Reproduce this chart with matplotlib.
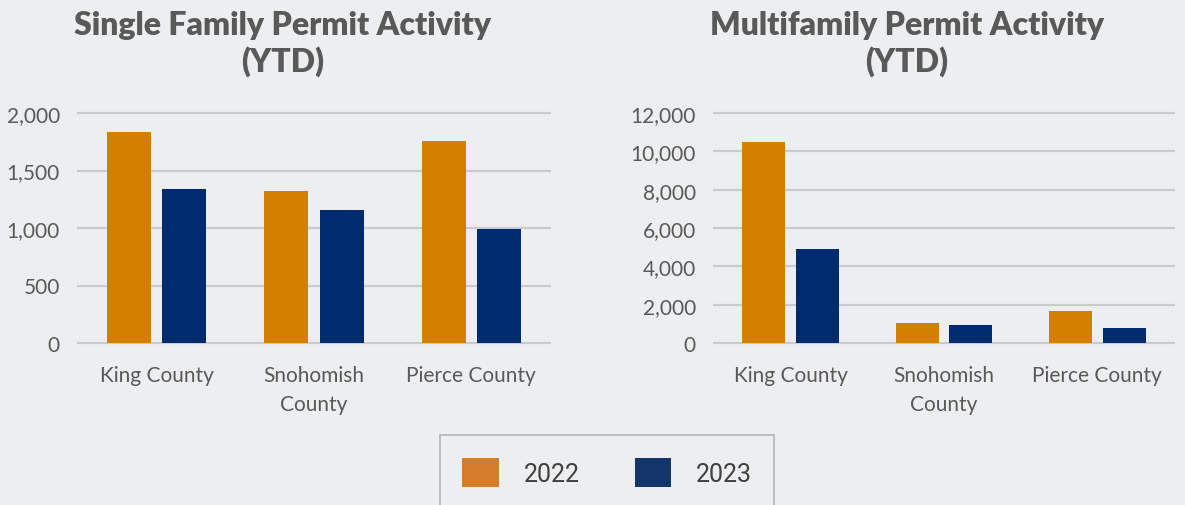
import numpy as np
import matplotlib.pyplot as plt
from matplotlib.patches import Patch

# datos
condados = ['King County', 'Snohomish\nCounty', 'Pierce County']
anios = ['2022', '2023']
unifamiliar_2022 = [1835, 1323, 1760]
unifamiliar_2023 = [1341, 1160, 995]
multifamiliar_2022 = [10510, 1040, 1680]
multifamiliar_2023 = [4890, 935, 795]

fondo = '#EDEEF0'
naranja = '#D47F00'
azul = '#002B6F'
gris_texto = '#595959'
gris_grid = '#CACBCD'

plt.rcParams['font.family'] = ['Lato', 'DejaVu Sans']

fig = plt.figure(figsize=(11.85, 5.06), dpi=100, facecolor=fondo)

ax1 = fig.add_axes([78/1185, 1 - 344/506, 472/1185, 230/506])
ax2 = fig.add_axes([714/1185, 1 - 344/506, 460/1185, 230/506])

x = np.arange(len(condados))
ancho = 0.28
desp = 0.175

def dibujar(ax, v22, v23, ymax, paso):
  ax.set_facecolor(fondo)
  ax.bar(x - desp, v22, width=ancho, color=naranja, zorder=3)
  ax.bar(x + desp, v23, width=ancho, color=azul, zorder=3)
  ax.set_xlim(-0.5, 2.5)
  ax.set_ylim(0, ymax)
  ticks = np.arange(0, ymax + 1, paso)
  ax.set_yticks(ticks)
  ax.set_yticklabels([f'{int(t):,}' for t in ticks])
  ax.set_xticks(x)
  ax.set_xticklabels(condados, linespacing=1.55)
  ax.tick_params(length=0, labelsize=15, colors=gris_texto)
  ax.tick_params(axis='x', pad=16)
  ax.tick_params(axis='y', pad=13)
  ax.grid(axis='y', color=gris_grid, linewidth=1.6, zorder=0)
  ax.set_axisbelow(True)
  for s in ax.spines.values():
    s.set_visible(False)
  for l in ax.get_ygridlines():
    l.set_clip_on(False)

dibujar(ax1, unifamiliar_2022, unifamiliar_2023, 2000, 500)
dibujar(ax2, multifamiliar_2022, multifamiliar_2023, 12000, 2000)

# títulos
fig.text(283/1185, 1 - 44/506, 'Single Family Permit Activity\n(YTD)', ha='center', va='center',
         fontsize=23, fontweight='heavy', color=gris_texto, linespacing=1.25)
fig.text(907/1185, 1 - 44/506, 'Multifamily Permit Activity\n(YTD)', ha='center', va='center',
         fontsize=23, fontweight='heavy', color=gris_texto, linespacing=1.25)

# leyenda
handles = [Patch(facecolor='#D57D2A', edgecolor='none', label=anios[0]),
           Patch(facecolor='#14346C', edgecolor='none', label=anios[1])]
leg = fig.legend(handles=handles, ncol=2, loc='upper center',
                 bbox_to_anchor=(607/1185, 1 - 436/506), fontsize=18,
                 handlelength=1.45, handleheight=1.45, handletextpad=1.0,
                 columnspacing=2.2, borderpad=0.9, borderaxespad=0,
                 frameon=True, fancybox=False, facecolor=fondo, edgecolor='#A6A6A6')
leg.get_frame().set_linewidth(1.2)
for t in leg.get_texts():
  t.set_color('#404040')
  t.set_family(['Roboto', 'DejaVu Sans'])

fig.savefig('out.png', dpi=100, facecolor=fondo)
